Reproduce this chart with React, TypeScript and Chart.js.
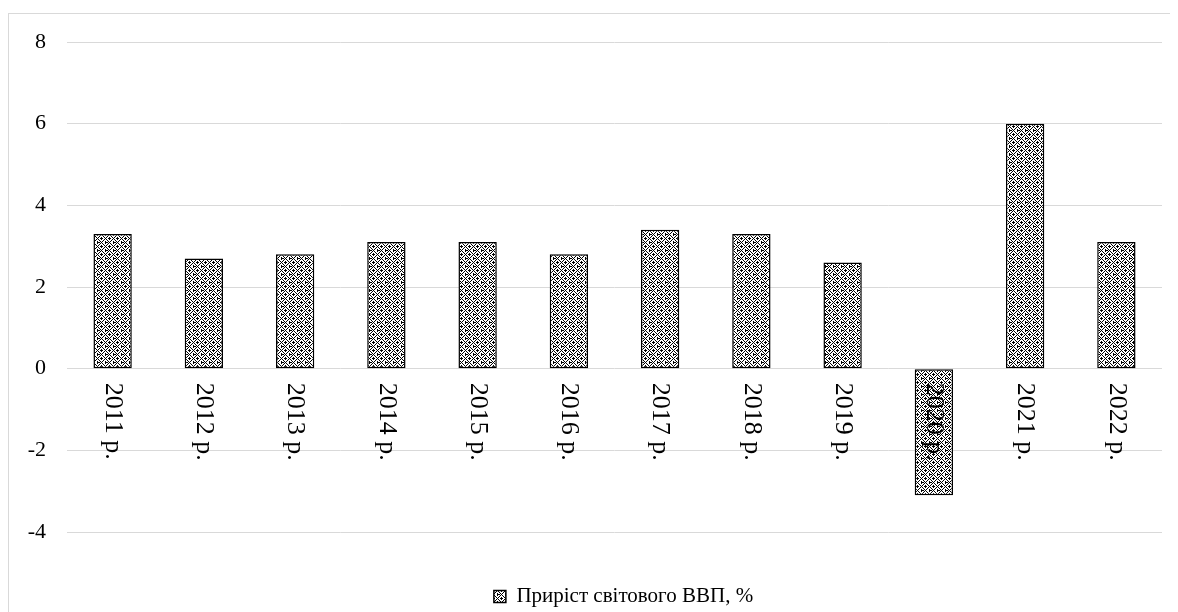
import React, { useEffect, useRef } from 'react';
import { Chart, registerables } from 'chart.js';

Chart.register(...registerables);

const categories = ['2011 р.', '2012 р.', '2013 р.', '2014 р.', '2015 р.', '2016 р.', '2017 р.', '2018 р.', '2019 р.', '2020 р.', '2021 р.', '2022 р.'];
const growth = [3.3, 2.7, 2.8, 3.1, 3.1, 2.8, 3.4, 3.3, 2.6, -3.1, 6.0, 3.1];
const seriesLabel = 'Приріст світового ВВП, %';
const yMin = -4;
const yMax = 8;
const yStep = 2;

const FONT = '"Liberation Serif", "Times New Roman", serif';

const tileRows = [
  '#..###..',
  '.#..#..#',
  '..#...#.',
  '#..#.#..',
  '###.#...',
  '#..#.#..',
  '..#...#.',
  '.#..#..#',
];

function makePattern(ctx: CanvasRenderingContext2D) {
  const c = document.createElement('canvas');
  c.width = 8;
  c.height = 8;
  const g = c.getContext('2d')!;
  g.fillStyle = '#ffffff';
  g.fillRect(0, 0, 8, 8);
  g.fillStyle = '#000000';
  tileRows.forEach((row, yy) => {
    row.split('').forEach((ch, xx) => {
      if (ch === '#') g.fillRect(xx, yy, 1, 1);
    });
  });
  return ctx.createPattern(c, 'repeat')!;
}

const zeroLabels = {
  id: 'zeroLabels',
  afterDatasetsDraw(chart: any) {
    const { ctx, scales } = chart;
    const x = scales.x;
    const y = scales.y;
    const y0 = y.getPixelForValue(0);
    ctx.save();
    ctx.font = '26px ' + FONT;
    ctx.fillStyle = '#000000';
    ctx.textAlign = 'left';
    ctx.textBaseline = 'middle';
    categories.forEach((lab, i) => {
      const px = x.getPixelForValue(i);
      ctx.save();
      ctx.translate(px, y0 + 14);
      ctx.rotate(Math.PI / 2);
      ctx.fillText(lab, 0, 0);
      ctx.restore();
    });
    ctx.restore();
  },
};

const legendShift = {
  id: 'legendShift',
  afterLayout(chart: any) {
    const l = chart.legend;
    if (l) {
      l.left += 38;
      l.right += 38;
    }
  },
};

export default function App() {
  const ref = useRef<HTMLCanvasElement>(null);

  useEffect(() => {
    document.documentElement.style.overflow = 'hidden';
    document.body.style.overflow = 'hidden';
    const canvas = ref.current!;
    const ctx = canvas.getContext('2d')!;
    const pattern = makePattern(ctx);
    const chart = new Chart(ctx, {
      type: 'bar',
      data: {
        labels: categories,
        datasets: [
          {
            label: seriesLabel,
            data: growth,
            backgroundColor: pattern as any,
            borderColor: '#000000',
            borderWidth: 1.5,
            borderSkipped: false,
            categoryPercentage: 1,
            barPercentage: 0.42,
          },
        ],
      },
      options: {
        responsive: false,
        animation: false,
        layout: { padding: { top: 28, right: 17, bottom: 2, left: 0 } },
        plugins: {
          tooltip: { enabled: false },
          legend: {
            position: 'bottom',
            labels: {
              boxWidth: 12,
              boxHeight: 12,
              padding: 10,
              color: '#000000',
              font: { family: FONT, size: 21 },
            },
          },
        },
        scales: {
          x: {
            display: true,
            grid: { display: false },
            border: { display: false },
            ticks: { display: false },
            afterFit: (scale: any) => {
              scale.height = 44;
            },
          },
          y: {
            min: yMin,
            max: yMax,
            border: { display: false },
            grid: { color: '#d9d9d9', lineWidth: 1, drawTicks: false },
            ticks: {
              stepSize: yStep,
              padding: 21,
              color: '#000000',
              font: { family: FONT, size: 22 },
            },
            afterFit: (scale: any) => {
              scale.width = 58;
              scale.paddingTop = 0;
              scale.paddingBottom = 0;
            },
          },
        },
      },
      plugins: [zeroLabels, legendShift],
    });
    return () => chart.destroy();
  }, []);

  return (
    <div
      style={{
        marginTop: 5,
        width: 1170,
        height: 605,
        border: '1px solid #d9d9d9',
        boxSizing: 'content-box',
        background: '#ffffff',
      }}
    >
      <canvas ref={ref} width={1170} height={605} style={{ display: 'block' }} />
    </div>
  );
}
